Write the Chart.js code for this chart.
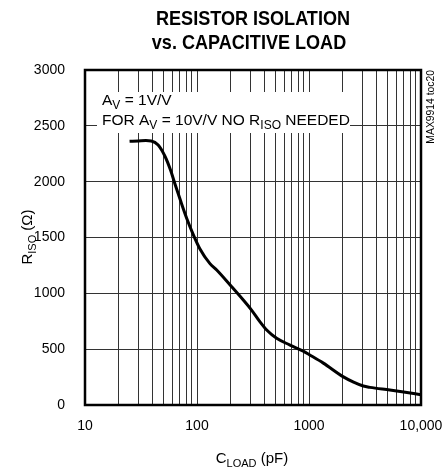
<!DOCTYPE html>
<html>
<head>
<meta charset="utf-8">
<script src="https://cdn.jsdelivr.net/npm/chart.js@4.4.0/dist/chart.umd.min.js"></script>
<style>
  html, body { margin: 0; padding: 0; background: #fff; }
  #wrap { width: 443px; height: 471px; }
</style>
</head>
<body>
<div id="wrap"><canvas id="grafico"></canvas></div>
<script>
// valores
const cargaPf = [25, 30, 35, 39, 45, 52, 58, 64, 71, 81, 93, 106, 130, 150, 204, 259, 307, 364, 419, 514, 677, 889, 1000, 1343, 2010, 2500, 3055, 3500, 5270, 7000, 10000];
const rIso    = [2362, 2365, 2368, 2365, 2328, 2223, 2104, 1970, 1835, 1671, 1522, 1400, 1268, 1209, 1059, 940, 850, 746, 671, 597, 537, 482, 452, 375, 254, 205, 170, 158, 134, 116, 92];

const xGrade = [10, 20, 30, 40, 50, 60, 70, 80, 90, 100, 200, 300, 400, 500, 600, 700, 800, 900, 1000, 2000, 3000, 4000, 5000, 6000, 7000, 8000, 9000, 10000];
const xRotuloValores = [10, 100, 1000, 10000];
const xRotulos = ['10', '100', '1000', '10,000'];

const FONTE = '"Liberation Sans", Arial, sans-serif';

// desenha texto com partes em subscrito
function textoComSub(ctx, partes, x, y, tam, alinhar) {
  const tamSub = Math.round(tam * 0.75);
  let largura = 0;
  partes.forEach(p => {
    ctx.font = (p.sub ? tamSub : tam) + 'px ' + FONTE;
    largura += ctx.measureText(p.t).width;
  });
  let cx = alinhar === 'center' ? x - largura / 2 : x;
  ctx.textAlign = 'left';
  ctx.textBaseline = 'alphabetic';
  partes.forEach(p => {
    ctx.font = (p.sub ? tamSub : tam) + 'px ' + FONTE;
    ctx.fillText(p.t, cx, p.sub ? y + 4 : y);
    cx += ctx.measureText(p.t).width;
  });
}

// texto condensado (sem fonte narrow instalada)
function textoEstreito(ctx, txt, cx, y, escala) {
  ctx.save();
  ctx.translate(cx, y);
  ctx.scale(escala, 1);
  ctx.textAlign = 'center';
  ctx.fillText(txt, 0, 0);
  ctx.restore();
}

const decoracao = {
  id: 'decoracao',
  beforeDatasetsDraw(chart) {
    const ctx = chart.ctx;
    ctx.save();
    ctx.fillStyle = '#fff';
    ctx.fillRect(97, 92, 253, 41);
    ctx.fillStyle = '#000';
    textoComSub(ctx, [{t: 'A'}, {t: 'V', sub: true}, {t: ' = 1V/V'}], 102, 105, 15.5, 'left');
    textoComSub(ctx, [{t: 'FOR A'}, {t: 'V', sub: true}, {t: ' = 10V/V NO R'}, {t: 'ISO', sub: true}, {t: ' NEEDED'}], 102, 125, 15.5, 'left');
    ctx.restore();
  },
  afterDraw(chart) {
    const ctx = chart.ctx;
    const a = chart.chartArea;
    ctx.save();
    ctx.strokeStyle = '#000';
    ctx.lineWidth = 2.5;
    ctx.strokeRect(a.left, a.top, a.right - a.left, a.bottom - a.top);

    ctx.fillStyle = '#000';
    ctx.textBaseline = 'alphabetic';
    ctx.font = 'bold 21px ' + FONTE;
    textoEstreito(ctx, 'RESISTOR ISOLATION', 253, 25, 0.86);
    textoEstreito(ctx, 'vs. CAPACITIVE LOAD', 249, 49, 0.86);

    textoComSub(ctx, [{t: 'C'}, {t: 'LOAD', sub: true}, {t: ' (pF)'}], 252, 463, 15, 'center');

    ctx.save();
    ctx.translate(32, 237);
    ctx.rotate(-Math.PI / 2);
    textoComSub(ctx, [{t: 'R'}, {t: 'ISO', sub: true}, {t: ' (Ω)'}], 0, 0, 15, 'center');
    ctx.restore();

    ctx.save();
    ctx.translate(434, 70);
    ctx.rotate(-Math.PI / 2);
    ctx.scale(0.9, 1);
    ctx.font = '11.5px ' + FONTE;
    ctx.textAlign = 'right';
    ctx.fillText('MAX9914 toc20', 0, 0);
    ctx.restore();
    ctx.restore();
  }
};

window.addEventListener('load', () => {
  const ctx = document.getElementById('grafico').getContext('2d');
  new Chart(ctx, {
    type: 'line',
    data: {
      datasets: [{
        data: cargaPf.map((c, i) => ({ x: c, y: rIso[i] })),
        borderColor: '#000',
        borderWidth: 3,
        pointRadius: 0,
        fill: false,
        cubicInterpolationMode: 'monotone'
      }]
    },
    options: {
      responsive: true,
      maintainAspectRatio: false,
      animation: false,
      layout: { padding: { top: 70, right: 22, left: 0, bottom: 0 } },
      plugins: { legend: { display: false }, tooltip: { enabled: false }, title: { display: false } },
      scales: {
        x: {
          type: 'logarithmic',
          min: 10,
          max: 10000,
          afterBuildTicks: scale => { scale.ticks = xGrade.map(v => ({ value: v })); },
          afterFit: scale => { scale.height = 66; scale.paddingRight = 0; scale.paddingLeft = 0; },
          grid: { color: '#333', lineWidth: 1, drawTicks: false },
          border: { display: false },
          ticks: {
            autoSkip: false,
            maxRotation: 0,
            padding: 13,
            color: '#000',
            font: { family: FONTE, size: 14 },
            callback: v => {
              const i = xRotuloValores.indexOf(v);
              return i >= 0 ? xRotulos[i] : '';
            }
          }
        },
        y: {
          min: 0,
          max: 3000,
          afterFit: scale => { scale.width = 85; scale.paddingTop = 0; scale.paddingBottom = 0; },
          grid: { color: '#333', lineWidth: 1, drawTicks: false },
          border: { display: false },
          ticks: {
            stepSize: 500,
            padding: 20,
            color: '#000',
            font: { family: FONTE, size: 14 },
            callback: v => String(v)
          }
        }
      }
    },
    plugins: [decoracao]
  });
});
</script>
</body>
</html>
